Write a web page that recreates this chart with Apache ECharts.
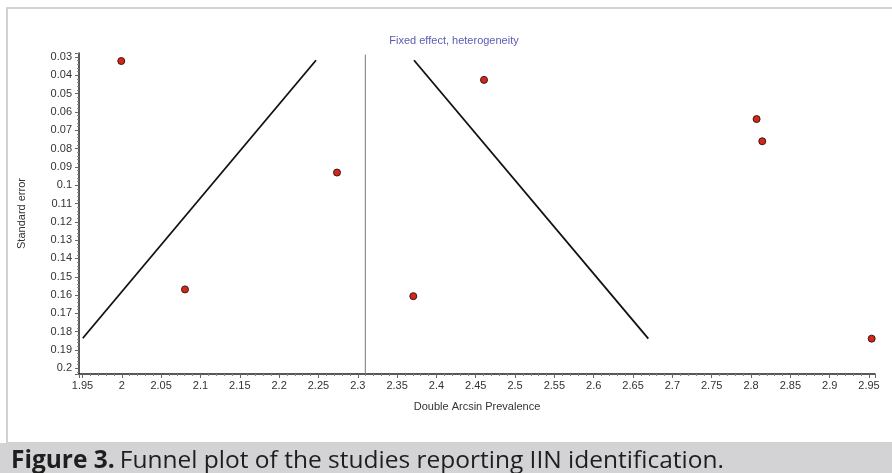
<!DOCTYPE html>
<html>
<head>
<meta charset="utf-8">
<script src="https://cdn.jsdelivr.net/npm/echarts@6/dist/echarts.min.js"></script>
<style>
html,body{margin:0;padding:0;background:#fff;}
#chart{width:892px;height:473px;}
</style>
</head>
<body>
<div id="chart"></div>
<script>
// Study estimates (Double Arcsin Prevalence) and their standard errors
var studyX = [1.9993, 2.0803, 2.2736, 2.3706, 2.4605, 2.8071, 2.8143, 2.9534];
var studySE = [0.0322, 0.1569, 0.0931, 0.1606, 0.0425, 0.0639, 0.0760, 0.1838];
// Pooled (fixed effect) estimate line
var pooledX = [2.3096, 2.3096];
var pooledSE = [0.0287, 0.2031];
// Funnel boundaries
var leftFunnelX = [2.2469, 1.9503];
var leftFunnelSE = [0.0318, 0.1836];
var rightFunnelX = [2.3715, 2.6694];
var rightFunnelSE = [0.0318, 0.1838];
// Axis extents
var xRange = [1.94555, 2.95763];
var yRange = [0.02782, 0.2031];

function pairs(xs, ys) { return xs.map(function (x, i) { return [x, ys[i]]; }); }

var chart = echarts.init(document.getElementById('chart'), null, { renderer: 'canvas' });
var font = 'Liberation Sans, Arial, sans-serif';
chart.setOption({
  animation: false,
  backgroundColor: '#fff',
  graphic: [
    { type: 'rect', shape: { x: 7, y: 8, width: 900, height: 435 }, style: { fill: 'none', stroke: '#d2d2d2', lineWidth: 2 }, z: -1 },
    { type: 'rect', shape: { x: 0, y: 443, width: 892, height: 30 }, style: { fill: '#d3d3d5' }, z: -1 }
  ],
  title: [
    { text: 'Fixed effect, heterogeneity', left: 449, textAlign: 'center', top: 30,
      textStyle: { color: '#5a5ab4', fontSize: 11, fontWeight: 'normal', fontFamily: font } },
    { text: '{b|Figure 3.} {n|Funnel plot of the studies reporting IIN identification.}', left: 6, top: 444,
      textStyle: { rich: {
        b: { fontFamily: 'Open Sans', fontWeight: 'bold', fontSize: 24.5, color: '#1e1e1e' },
        n: { fontFamily: 'Open Sans', fontWeight: 'normal', fontSize: 24.5, color: '#1e1e1e' }
      } } }
  ],
  grid: { left: 79, right: 17, top: 53, bottom: 99, containLabel: false },
  xAxis: {
    type: 'value', min: xRange[0], max: xRange[1], splitNumber: 20,
    name: 'Double Arcsin Prevalence', nameLocation: 'middle', nameGap: 27,
    nameTextStyle: { color: '#333', fontSize: 11, fontFamily: font },
    axisLine: { lineStyle: { color: '#222', width: 1.5 } },
    axisTick: { show: true, length: 4, lineStyle: { color: '#666' } },
    minorTick: { show: true, splitNumber: 5, length: 2, lineStyle: { color: '#888' } },
    splitLine: { show: false },
    axisLabel: { color: '#333', fontSize: 11, fontFamily: font, margin: 6, showMinLabel: false, showMaxLabel: false }
  },
  yAxis: {
    type: 'value', inverse: true, min: yRange[0], max: yRange[1], splitNumber: 17,
    name: 'Standard error', nameLocation: 'middle', nameGap: 52, nameRotate: 90,
    nameTextStyle: { color: '#333', fontSize: 11, fontFamily: font },
    axisLine: { show: true, lineStyle: { color: '#222', width: 1.5 } },
    axisTick: { show: true, length: 4, lineStyle: { color: '#666' } },
    minorTick: { show: true, splitNumber: 5, length: 2, lineStyle: { color: '#888' } },
    splitLine: { show: false },
    axisLabel: { color: '#333', fontSize: 11, fontFamily: font, margin: 7, showMinLabel: false, showMaxLabel: false }
  },
  series: [
    { type: 'line', data: pairs(pooledX, pooledSE), symbol: 'none', lineStyle: { color: '#777', width: 1 }, silent: true },
    { type: 'line', data: pairs(leftFunnelX, leftFunnelSE), symbol: 'none', lineStyle: { color: '#111', width: 1.8 }, silent: true },
    { type: 'line', data: pairs(rightFunnelX, rightFunnelSE), symbol: 'none', lineStyle: { color: '#111', width: 1.8 }, silent: true },
    { type: 'scatter', data: pairs(studyX, studySE), symbol: 'circle', symbolSize: 7,
      itemStyle: { color: '#d6261a', borderColor: '#3a1a14', borderWidth: 1, opacity: 1 }, z: 5 }
  ]
});
</script>
</body>
</html>
